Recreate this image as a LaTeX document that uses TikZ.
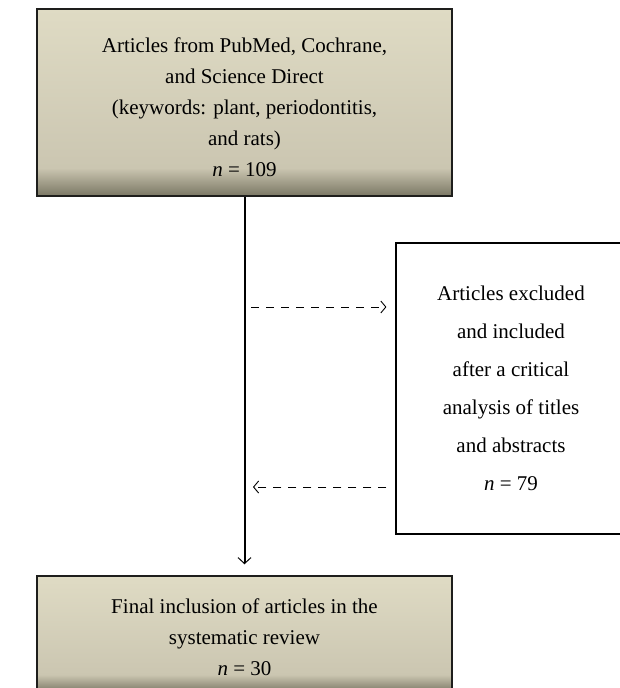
\documentclass[tikz,border=0pt]{standalone}
\usepackage{fontspec}
\setmainfont{Liberation Serif}
\usetikzlibrary{arrows.meta,shadings}

\definecolor{boxTop}{RGB}{223,219,196}
\definecolor{boxMid}{RGB}{203,198,177}
\definecolor{boxDark}{RGB}{122,119,100}
\definecolor{boxLine}{RGB}{30,30,28}

\pgfdeclareverticalshading{boxfade}{100bp}{color(0bp)=(boxDark); color(25bp)=(boxDark); color(28bp)=(boxDark!60!boxMid); color(32.5bp)=(boxMid); color(75bp)=(boxTop); color(100bp)=(boxTop)}

\tikzset{
  flowbox/.style={draw=boxLine, line width=1.5pt, shading=boxfade, align=center,
    font=\fontsize{21}{31}\selectfont, inner sep=0pt},
  sidebox/.style={draw=black, line width=1.2pt, fill=white, align=center,
    font=\fontsize{21}{38}\selectfont, inner sep=0pt},
  mainflow/.style={line width=2pt, -{Straight Barb[length=6pt,width=13pt,line width=1pt]}},
  sideflow/.style={line width=0.9pt, dash pattern=on 8pt off 7pt,
    -{Straight Barb[length=5pt,width=12pt,line width=0.9pt]}}
}

\begin{document}
\begin{tikzpicture}[x=1pt, y=-1pt]
    \useasboundingbox (0,0) rectangle (620,688);
    \clip (0,0) rectangle (620,688);

    % boxes
    \node[flowbox, minimum width=415pt, minimum height=187pt] (src) at (244.5,102.5)
      {\rule{0pt}{24pt}Articles from PubMed, Cochrane,\\ and Science Direct\\ (keywords: plant, periodontitis,\\ and rats)\\ \textit{n} = 109};

    \node[sidebox, minimum width=230pt, minimum height=291pt] (screen) at (511,388.5)
      {Articles excluded\\ and included\\ after a critical\\ analysis of titles\\ and abstracts\\ \textit{n} = 79};

    \node[flowbox, minimum width=415pt, minimum height=116pt] (final) at (244.5,634)
      {\rule{0pt}{21pt}Final inclusion of articles in the\\ systematic review\\ \textit{n} = 30};

    % main flow
    \draw[mainflow, shorten >=11pt] (src.south) -- (final.north);

    % side flows
    \coordinate (toScreen) at (251,307);
    \coordinate (fromScreen) at (253,487);

    \draw[sideflow, shorten >=9pt] (toScreen) -- (toScreen -| screen.west);
    \draw[sideflow, shorten <=9pt] (fromScreen -| screen.west) -- (fromScreen);

\end{tikzpicture}
\end{document}
